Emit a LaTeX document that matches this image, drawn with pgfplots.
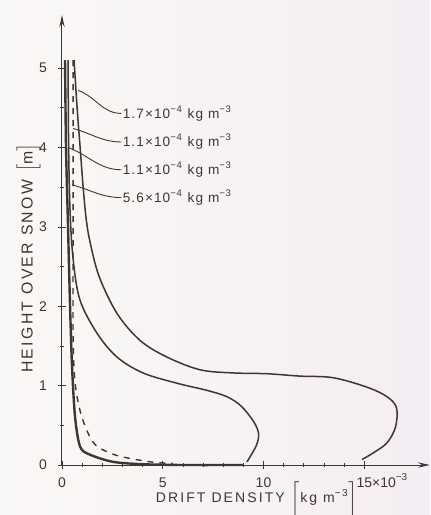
\documentclass[border=0pt]{standalone}
\usepackage{fontspec}
\setmainfont{Liberation Sans}
\newfontfamily\lblfont[LetterSpace=15]{Liberation Sans}
\newfontfamily\notefont[LetterSpace=8]{Liberation Sans}
\usepackage{pgfplots}
\pgfplotsset{compat=1.18}
\usetikzlibrary{arrows.meta}
\definecolor{ink}{HTML}{3F3632}
\definecolor{paperl}{HTML}{FAF8F6}
\definecolor{paperr}{HTML}{F4EDF3}

\begin{document}
\begin{tikzpicture}
\path[use as bounding box] (-31pt,-25pt) rectangle (184pt,232.5pt);
\shade[left color=paperl, right color=paperr] (-31pt,-25pt) rectangle (184pt,232.5pt);
\begin{axis}[
  scale only axis, width=184pt, height=225pt,
  xmin=0, xmax=18.26, ymin=0, ymax=5.67,
  axis lines=left,
  axis line style={ink, line width=0.5pt, -{Stealth[length=6pt,width=2.6pt]}},
  xtick={0,5,10,15},
  xticklabels={0,5,10,15\rlap{×10\textsuperscript{−3}}},
  minor x tick num=4,
  ytick={0,1,2,3,4,5},
  minor y tick num=1,
  tick align=center,
  major tick length=4pt, minor tick length=2pt,
  tick style={ink, line width=0.4pt},
  /pgf/number format/assume math mode=true,
  tick label style={font=\fontsize{7}{8}\selectfont, text=ink},
  xticklabel style={anchor=base, yshift=-9pt},
  yticklabel style={xshift=-2pt},
  xlabel={\lblfont DRIFT DENSITY $\bigl[$kg m\textsuperscript{−3}$\bigr]$},
  ylabel={\lblfont HEIGHT OVER SNOW $\bigl[$m$\bigr]$},
  xlabel style={at={(axis description cs:0.53,-0.076)}, anchor=center, font=\fontsize{7}{8}\selectfont, text=ink},
  ylabel style={at={(axis description cs:-0.092,0.46)}, anchor=center, inner sep=0pt, font=\fontsize{7.9}{9}\selectfont, text=ink},
  clip=false,
]
% outer curve
\addplot[ink, line width=0.75pt, smooth, tension=0.55] coordinates {
 (0.6,5.1) (0.75,4.5) (0.9,4.0) (1.05,3.5) (1.2,3.1) (1.4,2.8) (1.85,2.37)
 (2.73,1.91) (3.87,1.57) (5.21,1.36) (6.85,1.2) (8.49,1.16) (10.17,1.15)
 (11.81,1.12) (13.45,1.1) (15.14,0.98) (16.13,0.86) (16.6,0.72) (16.55,0.48)
 (16.13,0.28) (15.43,0.15) (14.89,0.07)};
% middle curve
\addplot[ink, line width=0.75pt, smooth, tension=0.55] coordinates {
 (0.3,5.1) (0.33,4.0) (0.4,3.2) (0.55,2.6) (0.89,2.08) (1.74,1.66) (2.73,1.36)
 (4.02,1.16) (5.71,1.03) (7.2,0.94) (8.19,0.86) (8.9,0.74) (9.5,0.55)
 (9.75,0.4) (9.65,0.25) (9.18,0.04)};
% inner curve
\addplot[ink, line width=1.2pt, smooth, tension=0.5] coordinates {
 (0.15,5.1) (0.2,4.0) (0.3,3.0) (0.4,2.0) (0.5,1.23) (0.65,0.6) (0.9,0.23)
 (1.39,0.13) (2.53,0.04) (4,0.01) (6,0.0) (9,0)};
% dashed curve
\addplot[ink, line width=0.7pt, dashed, smooth, tension=0.5] coordinates {
 (0.55,5.1) (0.55,4.0) (0.55,3.0) (0.55,1.66) (0.65,1.03) (0.99,0.6)
 (1.6,0.27) (2.6,0.13) (3.87,0.06) (4.7,0.03) (5.5,0.02)};
% labels
\begin{scope}[ink, line width=0.45pt]
\draw (axis cs:0.8,4.72) to[out=-20,in=180] (axis cs:2.95,4.43);
\draw (axis cs:0.55,4.24) to[out=-15,in=180] (axis cs:2.95,4.07);
\draw (axis cs:0.3,4.0) to[out=-20,in=180] (axis cs:2.95,3.72);
\draw (axis cs:0.5,3.53) to[out=-15,in=180] (axis cs:2.95,3.37);
\end{scope}
\begin{scope}[every node/.style={anchor=west, inner sep=0.5pt, text=ink, font=\notefont\fontsize{6.8}{7}\selectfont}]
\node at (axis cs:2.95,4.43) {1.7×10\textsuperscript{−4} kg m\textsuperscript{−3}};
\node at (axis cs:2.95,4.07) {1.1×10\textsuperscript{−4} kg m\textsuperscript{−3}};
\node at (axis cs:2.95,3.72) {1.1×10\textsuperscript{−4} kg m\textsuperscript{−3}};
\node at (axis cs:2.95,3.37) {5.6×10\textsuperscript{−4} kg m\textsuperscript{−3}};
\end{scope}
\end{axis}
\end{tikzpicture}
\end{document}
